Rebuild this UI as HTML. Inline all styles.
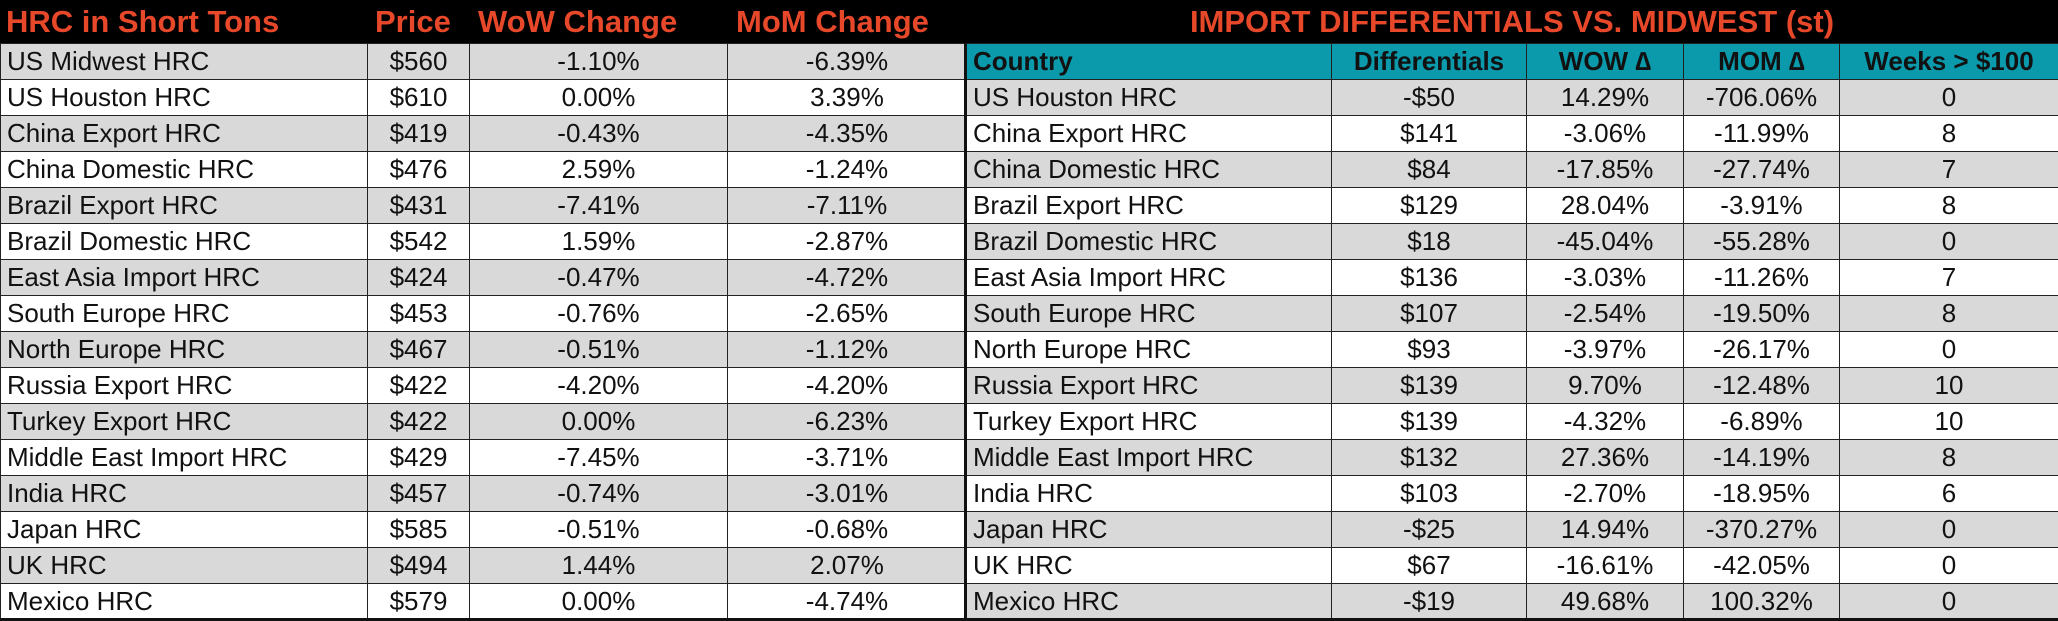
<!DOCTYPE html>
<html><head><meta charset="utf-8"><style>
body{margin:0;width:2058px;height:621px;background:#fff;overflow:hidden;font-family:"Liberation Sans",sans-serif;}
.hdr{position:absolute;top:0;height:43px;background:#000;}
.t{position:absolute;border-collapse:collapse;table-layout:fixed;}
.t td{height:35px;padding:0 6px;font-size:26px;color:#111;border:1px solid #222;white-space:nowrap;overflow:hidden;line-height:35px;}
.t td.c{text-align:center}
.g td{background:#d9d9d9}
.w td{background:#fff}
.th td{background:#0b99ac;font-weight:bold;color:#111;}
.h{position:absolute;top:0;height:43px;line-height:43px;color:#e8482a;font-weight:bold;font-size:31px;white-space:nowrap}
</style></head><body>
<div class="hdr" style="left:0;width:2058px"></div>
<div class="h" style="left:6px">HRC in Short Tons</div>
<div class="h" style="left:375px">Price</div>
<div class="h" style="left:478px">WoW Change</div>
<div class="h" style="left:736px">MoM Change</div>
<div class="h" style="left:966px;width:1092px;text-align:center">IMPORT DIFFERENTIALS VS. MIDWEST (st)</div>

<table class="t" style="left:0;top:43px;width:966px">
<colgroup><col style="width:367px"><col style="width:102px"><col style="width:258px"><col style="width:239px"></colgroup>
<tr class="g"><td>US Midwest HRC</td><td class="c">$560</td><td class="c">-1.10%</td><td class="c">-6.39%</td></tr>
<tr class="w"><td>US Houston HRC</td><td class="c">$610</td><td class="c">0.00%</td><td class="c">3.39%</td></tr>
<tr class="g"><td>China Export HRC</td><td class="c">$419</td><td class="c">-0.43%</td><td class="c">-4.35%</td></tr>
<tr class="w"><td>China Domestic HRC</td><td class="c">$476</td><td class="c">2.59%</td><td class="c">-1.24%</td></tr>
<tr class="g"><td>Brazil Export HRC</td><td class="c">$431</td><td class="c">-7.41%</td><td class="c">-7.11%</td></tr>
<tr class="w"><td>Brazil Domestic HRC</td><td class="c">$542</td><td class="c">1.59%</td><td class="c">-2.87%</td></tr>
<tr class="g"><td>East Asia Import HRC</td><td class="c">$424</td><td class="c">-0.47%</td><td class="c">-4.72%</td></tr>
<tr class="w"><td>South Europe HRC</td><td class="c">$453</td><td class="c">-0.76%</td><td class="c">-2.65%</td></tr>
<tr class="g"><td>North Europe HRC</td><td class="c">$467</td><td class="c">-0.51%</td><td class="c">-1.12%</td></tr>
<tr class="w"><td>Russia Export HRC</td><td class="c">$422</td><td class="c">-4.20%</td><td class="c">-4.20%</td></tr>
<tr class="g"><td>Turkey Export HRC</td><td class="c">$422</td><td class="c">0.00%</td><td class="c">-6.23%</td></tr>
<tr class="w"><td>Middle East Import HRC</td><td class="c">$429</td><td class="c">-7.45%</td><td class="c">-3.71%</td></tr>
<tr class="g"><td>India HRC</td><td class="c">$457</td><td class="c">-0.74%</td><td class="c">-3.01%</td></tr>
<tr class="w"><td>Japan HRC</td><td class="c">$585</td><td class="c">-0.51%</td><td class="c">-0.68%</td></tr>
<tr class="g"><td>UK HRC</td><td class="c">$494</td><td class="c">1.44%</td><td class="c">2.07%</td></tr>
<tr class="w"><td>Mexico HRC</td><td class="c">$579</td><td class="c">0.00%</td><td class="c">-4.74%</td></tr>
</table>

<table class="t" style="left:966px;top:43px;width:1092px">
<colgroup><col style="width:365px"><col style="width:195px"><col style="width:157px"><col style="width:156px"><col style="width:219px"></colgroup>
<tr class="th"><td>Country</td><td class="c">Differentials</td><td class="c">WOW ∆</td><td class="c">MOM ∆</td><td class="c">Weeks &gt; $100</td></tr>
<tr class="g"><td>US Houston HRC</td><td class="c">-$50</td><td class="c">14.29%</td><td class="c">-706.06%</td><td class="c">0</td></tr>
<tr class="w"><td>China Export HRC</td><td class="c">$141</td><td class="c">-3.06%</td><td class="c">-11.99%</td><td class="c">8</td></tr>
<tr class="g"><td>China Domestic HRC</td><td class="c">$84</td><td class="c">-17.85%</td><td class="c">-27.74%</td><td class="c">7</td></tr>
<tr class="w"><td>Brazil Export HRC</td><td class="c">$129</td><td class="c">28.04%</td><td class="c">-3.91%</td><td class="c">8</td></tr>
<tr class="g"><td>Brazil Domestic HRC</td><td class="c">$18</td><td class="c">-45.04%</td><td class="c">-55.28%</td><td class="c">0</td></tr>
<tr class="w"><td>East Asia Import HRC</td><td class="c">$136</td><td class="c">-3.03%</td><td class="c">-11.26%</td><td class="c">7</td></tr>
<tr class="g"><td>South Europe HRC</td><td class="c">$107</td><td class="c">-2.54%</td><td class="c">-19.50%</td><td class="c">8</td></tr>
<tr class="w"><td>North Europe HRC</td><td class="c">$93</td><td class="c">-3.97%</td><td class="c">-26.17%</td><td class="c">0</td></tr>
<tr class="g"><td>Russia Export HRC</td><td class="c">$139</td><td class="c">9.70%</td><td class="c">-12.48%</td><td class="c">10</td></tr>
<tr class="w"><td>Turkey Export HRC</td><td class="c">$139</td><td class="c">-4.32%</td><td class="c">-6.89%</td><td class="c">10</td></tr>
<tr class="g"><td>Middle East Import HRC</td><td class="c">$132</td><td class="c">27.36%</td><td class="c">-14.19%</td><td class="c">8</td></tr>
<tr class="w"><td>India HRC</td><td class="c">$103</td><td class="c">-2.70%</td><td class="c">-18.95%</td><td class="c">6</td></tr>
<tr class="g"><td>Japan HRC</td><td class="c">-$25</td><td class="c">14.94%</td><td class="c">-370.27%</td><td class="c">0</td></tr>
<tr class="w"><td>UK HRC</td><td class="c">$67</td><td class="c">-16.61%</td><td class="c">-42.05%</td><td class="c">0</td></tr>
<tr class="g"><td>Mexico HRC</td><td class="c">-$19</td><td class="c">49.68%</td><td class="c">100.32%</td><td class="c">0</td></tr>
</table>
<div style="position:absolute;left:964px;top:43px;width:3px;height:578px;background:#111"></div>
<div style="position:absolute;left:0;top:618px;width:2058px;height:3px;background:#111"></div>
</body></html>
